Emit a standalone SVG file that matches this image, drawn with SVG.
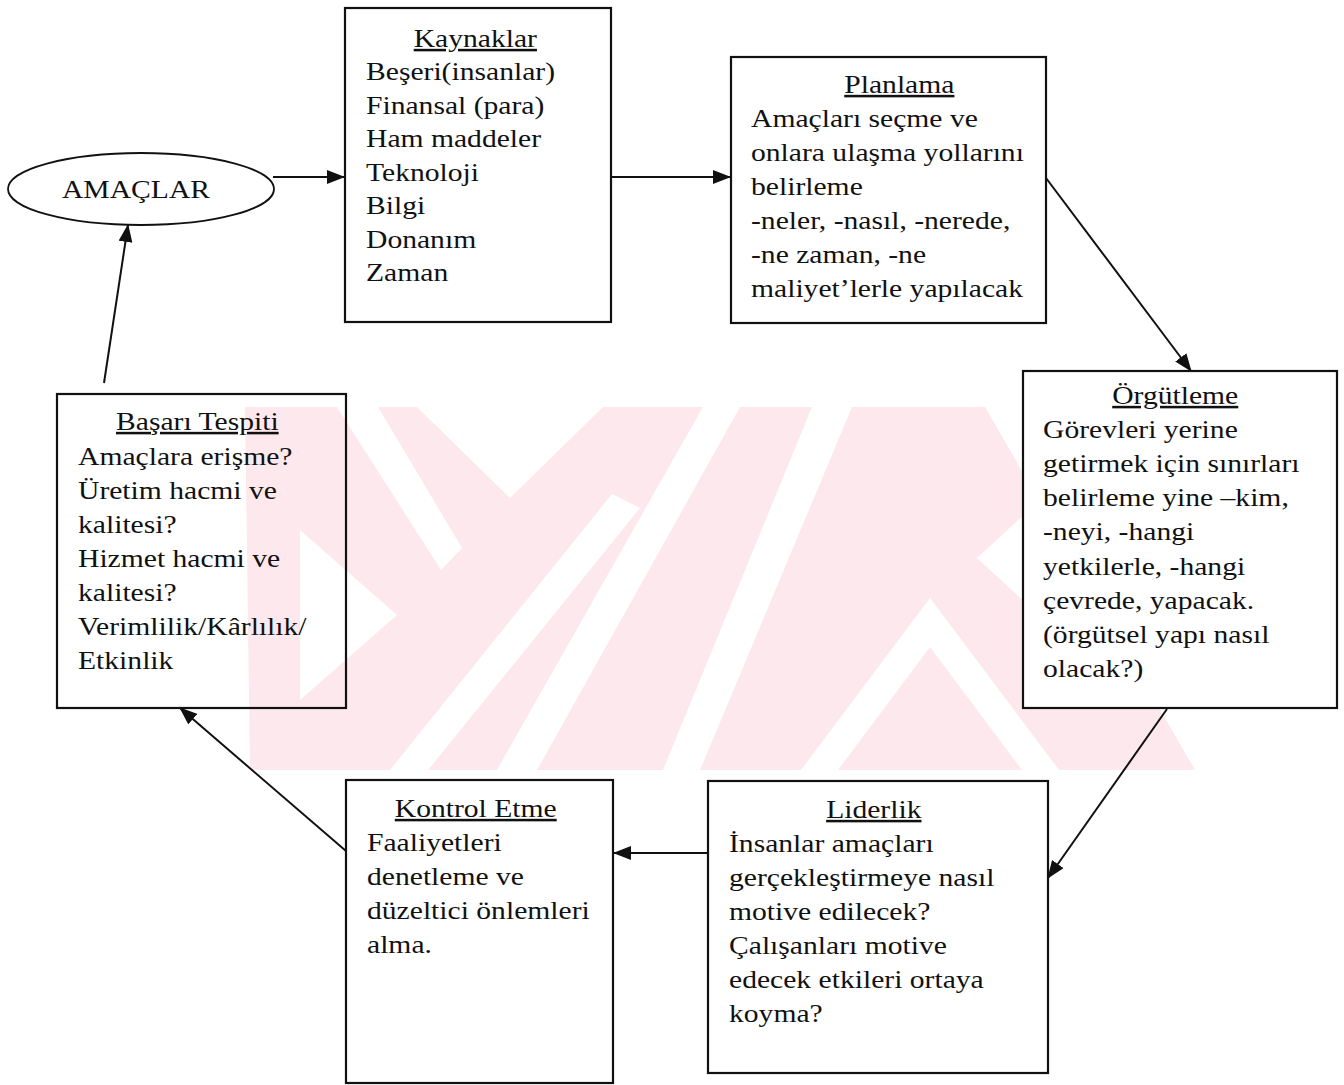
<svg xmlns="http://www.w3.org/2000/svg" width="1344" height="1085" viewBox="0 0 1344 1085">
  <defs>
    <style>
      .t { font-family: "Liberation Serif", "Times New Roman", serif; font-size: 25.2px; fill: #111; }
      .ttl { text-decoration: underline; text-anchor: middle; }
      .box { fill: none; stroke: #111; stroke-width: 2.2; }
      .opaque { fill: #fff; }
      .edge { fill: none; stroke: #111; stroke-width: 2; marker-end: url(#ah); }
      .wm { fill: #fde9ed; }
      .gap { fill: #fff; }
    </style>
    <marker id="ah" markerUnits="userSpaceOnUse" markerWidth="18" markerHeight="14" refX="17" refY="7" orient="auto">
      <path d="M0,0 L18,7 L0,14 z" fill="#111"/>
    </marker>
    <clipPath id="band">
      <rect x="0" y="407" width="1344" height="363"/>
    </clipPath>
  </defs>

  <rect width="1344" height="1085" fill="#fff"/>

  <!-- faint background emblem -->
  <g id="emblem" clip-path="url(#band)">
    <polygon class="wm" points="245,407 985,407 1195,770 250,770"/>
    <polygon class="gap" points="337,407 378,407 462,548 441,570"/>
    <polygon class="gap" points="417,407 603,407 510,498"/>
    <polygon class="gap" points="397,615 300,530 300,700"/>
    <polygon class="gap" points="390,770 428,770 640,508 612,494"/>
    <polygon class="gap" points="703,407 740,407 537,770 497,770"/>
    <polygon class="gap" points="812,407 852,407 700,770 663,770"/>
    <polygon class="gap" points="977,558 1040,500 1040,616"/>
    <polygon class="gap" points="930,598 1059,770 1022,770 930,647 838,770 801,770"/>
  </g>

  <!-- connectors -->
  <g id="connectors">
    <path class="edge" d="M273,177 L344,177"/>
    <path class="edge" d="M612,177 L730,177"/>
    <path class="edge" d="M1046,178 L1191,371"/>
    <path class="edge" d="M1167,709 L1048,878"/>
    <path class="edge" d="M708,853 L614,853"/>
    <path class="edge" d="M346,851 L180,708"/>
    <path class="edge" d="M104,383 L128,225"/>
  </g>

  <g id="amaclar">
    <ellipse cx="141" cy="189" rx="133" ry="36" fill="none" stroke="#111" stroke-width="1.8"/>
    <text class="t" transform="matrix(1.175 0 0 1 136 0)" x="0" y="198" text-anchor="middle">AMAÇLAR</text>
  </g>

  <g id="kaynaklar">
    <rect class="box" x="345" y="8" width="266" height="314"/>
    <text class="t" transform="matrix(1.175 0 0 1 366 0)">
      <tspan class="ttl" x="96.2" y="47">Kaynaklar</tspan>
      <tspan x="0" y="80.5">Beşeri(insanlar)</tspan>
      <tspan x="0" y="114">Finansal (para)</tspan>
      <tspan x="0" y="147.5">Ham maddeler</tspan>
      <tspan x="0" y="181">Teknoloji</tspan>
      <tspan x="0" y="214.5">Bilgi</tspan>
      <tspan x="0" y="248">Donanım</tspan>
      <tspan x="0" y="281.5">Zaman</tspan>
    </text>
  </g>

  <g id="planlama">
    <rect class="box" x="731" y="57" width="315" height="266"/>
    <text class="t" transform="matrix(1.175 0 0 1 751 0)">
      <tspan class="ttl" x="129.4" y="93">Planlama</tspan>
      <tspan x="0" y="127">Amaçları seçme ve</tspan>
      <tspan x="0" y="161">onlara ulaşma yollarını</tspan>
      <tspan x="0" y="195">belirleme</tspan>
      <tspan x="0" y="229">-neler, -nasıl, -nerede,</tspan>
      <tspan x="0" y="263">-ne zaman, -ne</tspan>
      <tspan x="0" y="297">maliyet’lerle yapılacak</tspan>
    </text>
  </g>

  <g id="orgutleme">
    <rect class="box opaque" x="1023" y="371" width="314" height="337"/>
    <text class="t" transform="matrix(1.175 0 0 1 1043 0)">
      <tspan class="ttl" x="115.7" y="404">Örgütleme</tspan>
      <tspan x="0" y="438">Görevleri yerine</tspan>
      <tspan x="0" y="472">getirmek için sınırları</tspan>
      <tspan x="0" y="506">belirleme yine –kim,</tspan>
      <tspan x="0" y="540">-neyi, -hangi</tspan>
      <tspan x="0" y="575">yetkilerle, -hangi</tspan>
      <tspan x="0" y="609">çevrede, yapacak.</tspan>
      <tspan x="0" y="643">(örgütsel yapı nasıl</tspan>
      <tspan x="0" y="677">olacak?)</tspan>
    </text>
  </g>

  <g id="liderlik">
    <rect class="box" x="708" y="781" width="340" height="292"/>
    <text class="t" transform="matrix(1.175 0 0 1 729 0)">
      <tspan class="ttl" x="126.4" y="818">Liderlik</tspan>
      <tspan x="0" y="852">İnsanlar amaçları</tspan>
      <tspan x="0" y="886">gerçekleştirmeye nasıl</tspan>
      <tspan x="0" y="920">motive edilecek?</tspan>
      <tspan x="0" y="954">Çalışanları motive</tspan>
      <tspan x="0" y="988">edecek etkileri ortaya</tspan>
      <tspan x="0" y="1022">koyma?</tspan>
    </text>
  </g>

  <g id="kontrol">
    <rect class="box" x="346" y="780" width="267" height="303"/>
    <text class="t" transform="matrix(1.175 0 0 1 367 0)">
      <tspan class="ttl" x="95.7" y="817">Kontrol Etme</tspan>
      <tspan x="0" y="851">Faaliyetleri</tspan>
      <tspan x="0" y="885">denetleme ve</tspan>
      <tspan x="0" y="919">düzeltici önlemleri</tspan>
      <tspan x="0" y="953">alma.</tspan>
    </text>
  </g>

  <g id="basari">
    <rect class="box" x="57" y="394" width="289" height="314"/>
    <text class="t" transform="matrix(1.175 0 0 1 78 0)">
      <tspan class="ttl" x="104.7" y="430">Başarı Tespiti</tspan>
      <tspan x="0" y="465">Amaçlara erişme?</tspan>
      <tspan x="0" y="499">Üretim hacmi ve</tspan>
      <tspan x="0" y="533">kalitesi?</tspan>
      <tspan x="0" y="567">Hizmet hacmi ve</tspan>
      <tspan x="0" y="601">kalitesi?</tspan>
      <tspan x="0" y="635">Verimlilik/Kârlılık/</tspan>
      <tspan x="0" y="669">Etkinlik</tspan>
    </text>
  </g>
</svg>
